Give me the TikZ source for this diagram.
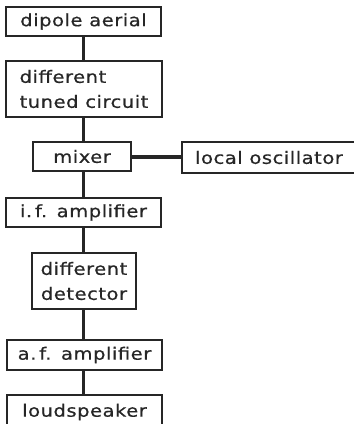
\documentclass[tikz,border=0pt]{standalone}
\usepackage{fontspec}
\newfontfamily\labfont[LetterSpace=3,FakeStretch=1.15,FakeBold=0.6]{DejaVu Sans}
\begin{document}
\begin{tikzpicture}[x=1pt,y=-1pt,
  box/.style={draw=black!85, line width=1.3pt, rectangle, inner sep=0pt,
    font=\labfont\fontsize{17}{25}\selectfont, align=center, text=black!85},
  wire/.style={draw=black!85, line width=3pt}]
\useasboundingbox (0,0) rectangle (354,424);
\clip (0,0) rectangle (354,424);
\node[box, minimum width=155pt, minimum height=29pt] (aerial) at (83.5,21.5) {dipole aerial};
\node[box, minimum width=156pt, minimum height=56pt, align=left] (tuned) at (84,89) {different\\tuned circuit};
\node[box, minimum width=98pt, minimum height=29pt] (mixer) at (82,156.5) {mixer};
\node[box, minimum width=174pt, minimum height=31pt] (osc) at (269,157.5) {local oscillator};
\node[box, minimum width=155pt, minimum height=29pt] (ifamp) at (83.5,212.5) {i.\,f.\ \,amplifier};
\node[box, minimum width=104pt, minimum height=56pt] (det) at (84,281) {different\\detector};
\node[box, minimum width=155pt, minimum height=30pt] (afamp) at (84.5,355) {a.\,f.\ \,amplifier};
\node[box, minimum width=155pt, minimum height=34pt] (speaker) at (84.5,412) {loudspeaker};
\coordinate (spine) at (83,0);
\draw[wire] (aerial.south -| spine) -- (tuned.north -| spine);
\draw[wire] (tuned.south -| spine) -- (mixer.north -| spine);
\draw[wire] (mixer.south -| spine) -- (ifamp.north -| spine);
\draw[wire] (ifamp.south -| spine) -- (det.north -| spine);
\draw[wire] (det.south -| spine) -- (afamp.north -| spine);
\draw[wire] (afamp.south -| spine) -- (speaker.north -| spine);
\draw[wire, line width=4pt] (mixer.east) -- (mixer.east -| osc.west);
\end{tikzpicture}
\end{document}
